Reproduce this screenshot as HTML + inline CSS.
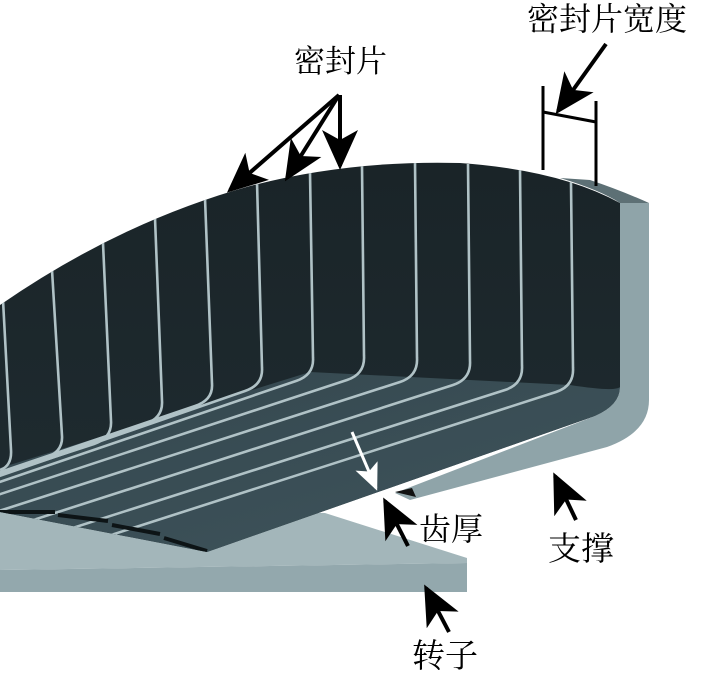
<!DOCTYPE html>
<html><head><meta charset="utf-8"><style>
html,body{margin:0;padding:0;background:#fff;}
svg{display:block;}
text{font-family:"Liberation Serif","Noto Serif CJK SC","Noto Sans CJK SC",serif;fill:#000;}
</style></head><body>
<svg width="709" height="681" viewBox="0 0 709 681" xmlns="http://www.w3.org/2000/svg">
<defs>
<marker id="ah" markerWidth="12" markerHeight="12" refX="9" refY="6" orient="auto" markerUnits="strokeWidth">
<path d="M0,1.5 L10,6 L0,10.5 L2.5,6 Z" fill="#000"/>
</marker>
<marker id="ahw" markerWidth="10" markerHeight="10" refX="8" refY="5" orient="auto" markerUnits="strokeWidth">
<path d="M0,1 L9,5 L0,9 L2,5 Z" fill="#fff"/>
</marker>
<clipPath id="dk"><path d="M0,305 Q120,222 250,186 Q350,160 460,163 Q560,170 620,203 L620,387 Q620,405 595,416 L207,552 L0,512 Z"/></clipPath>
<linearGradient id="wall" x1="0" y1="0" x2="0" y2="1"><stop offset="0" stop-color="#1a2428"/><stop offset="1" stop-color="#1f2c31"/></linearGradient>
<linearGradient id="flr" x1="0" y1="0" x2="1" y2="1"><stop offset="0" stop-color="#34474e"/><stop offset="1" stop-color="#3f545c"/></linearGradient>
</defs>

<polygon points="0,505 325,513 467,558 467,563 0,570" fill="#a3b6ba"/>
<polygon points="0,570 467,563 467,592 0,592" fill="#93a8ad"/>

<path d="M0,305 Q120,222 250,186 Q350,160 460,163 Q560,170 620,203 L620,387 Q620,405 595,416 L207,552 L0,512 Z" fill="url(#wall)"/>
<g clip-path="url(#dk)">
<path d="M0,468 L310,372 L570,385 Q615,392 620,387 L620,420 L207,552 L0,512 Z" fill="url(#flr)"/>
<g stroke="#b0c2c6" stroke-width="2.6" fill="none">
<path d="M3,300 L11,450 Q12,466 0,470"/>
<path d="M52,270 L62,436 Q63,452 45,458 L-200,540"/>
<path d="M103,243 L111,421 Q112,438 94,444 L-200,540"/>
<path d="M155,218 L162,401 Q163,418 145,424 L-200,540"/>
<path d="M205,198 L212,384 Q213,400 195,406 L-200,540"/>
<path d="M257,182 L262,368 Q263,385 245,391 L-200,545"/>
<path d="M310,172 L313,358 Q314,375 296,381 L-200,550"/>
<path d="M362,165 L364,356 Q365,374 347,380 L-200,560"/>
<path d="M415,162 L417,358 Q418,376 400,382 L-200,575"/>
<path d="M468,164 L470,361 Q471,379 453,385 L-200,595"/>
<path d="M520,169 L522,366 Q523,384 505,390 L-200,615"/>
<path d="M571,182 L573,368 Q574,386 556,392 L-200,635"/>
</g>
<g stroke="#0d1416" stroke-width="4" fill="none">
<path d="M0,512 L55,512 M58,515 L108,521 M112,525 L160,534 M164,538 L207,551"/>
</g>
</g>
<path d="M620,203 L649,203 L649,400 Q649,432 607,447 L410,500 L395,493 L595,416 Q620,405 620,387 Z" fill="#8fa4a9"/>
<path d="M560,178 Q600,190 620,203 L649,203 Q620,190 590,180 Z" fill="#5d7075"/>
<polygon points="395,492 412,488 416,497" fill="#111"/>

<line x1="352" y1="432" x2="376" y2="488" stroke="#fff" stroke-width="3" marker-end="url(#ahw)"/>

<g stroke="#000" stroke-width="4" fill="none">
<line x1="339" y1="95" x2="230" y2="190" marker-end="url(#ah)"/>
<line x1="339" y1="95" x2="287" y2="178" marker-end="url(#ah)"/>
<line x1="340" y1="95" x2="340" y2="166" marker-end="url(#ah)"/>
<line x1="606" y1="44" x2="558" y2="111" marker-end="url(#ah)"/>
<line x1="408" y1="546" x2="385" y2="501" marker-end="url(#ah)"/>
<line x1="576" y1="520" x2="555" y2="476" marker-end="url(#ah)"/>
<line x1="449" y1="632" x2="426" y2="588" marker-end="url(#ah)"/>
</g>
<g stroke="#000" stroke-width="3">
<line x1="543" y1="86" x2="543" y2="170"/>
<line x1="596" y1="101" x2="596" y2="186"/>
<line x1="543" y1="112" x2="596" y2="122"/>
</g>

<text x="294" y="72" font-size="31">密封片</text>
<text x="527" y="30" font-size="32">密封片宽度</text>
<text x="419" y="540" font-size="32">齿厚</text>
<text x="548" y="560" font-size="33">支撑</text>
<text x="412" y="667" font-size="33">转子</text>
</svg>
</body></html>
